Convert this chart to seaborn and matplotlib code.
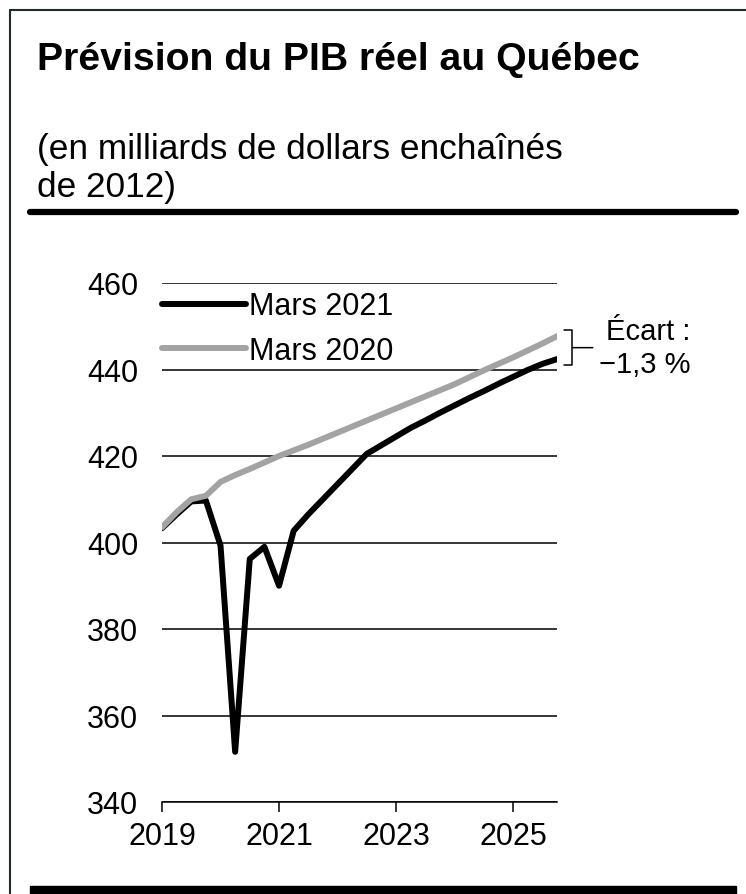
import pandas as pd
import matplotlib.pyplot as plt
import seaborn as sns
from matplotlib.lines import Line2D
from matplotlib.patches import Rectangle

# quarters 2019T1 .. 2025T4
quarters = pd.period_range("2019Q1", "2025Q4", freq="Q")

mars_2021 = [403.3, 406.5, 409.5, 409.7, 399.3, 351.6, 396.2, 399.0,
             390.0, 402.7, 406.5, 410.0, 413.5, 417.0, 420.5, 422.5,
             424.5, 426.5, 428.2, 430.0, 431.7, 433.4, 435.0, 436.7,
             438.3, 439.9, 441.3, 442.4]
mars_2020 = [403.5, 407.0, 410.0, 410.8, 414.0, 415.6, 417.0, 418.5,
             420.0, 421.3, 422.6, 424.0, 425.4, 426.8, 428.2, 429.6,
             431.0, 432.4, 433.8, 435.2, 436.6, 438.2, 439.8, 441.3,
             442.8, 444.4, 446.0, 447.7]

series_names = ["Mars 2021", "Mars 2020"]
y_ticks = [340, 360, 380, 400, 420, 440, 460]
x_ticks = [2019, 2021, 2023, 2025]

title = "Prévision du PIB réel au Québec"
subtitle_1 = "(en milliards de dollars enchaînés"
subtitle_2 = "de 2012)"
gap_label = "Écart :\n\u22121,3 %"

# long format for seaborn
x_year = [q.year + (q.quarter - 1) / 4 for q in quarters]
df = pd.concat([
    pd.DataFrame({"annee": x_year, "pib": mars_2021, "serie": series_names[0]}),
    pd.DataFrame({"annee": x_year, "pib": mars_2020, "serie": series_names[1]}),
])

sns.set_theme(style="white")
plt.rcParams["font.family"] = ["Liberation Sans", "DejaVu Sans"]

fig = plt.figure(figsize=(7.46, 8.95), dpi=100)
ax = fig.add_axes([162 / 746, 1 - 803 / 895, 395 / 746, 519 / 895])

lw = 4.3
sns.lineplot(
    data=df, x="annee", y="pib", hue="serie", hue_order=series_names,
    palette=["black", "#a3a3a3"], linewidth=lw, ax=ax,
    solid_capstyle="round",
)

ax.set_xlim(2019, 2025.75)
ax.set_ylim(340, 460)
ax.set_xticks(x_ticks)
ax.set_yticks(y_ticks)
ax.set_xlabel("")
ax.set_ylabel("")

# gridlines and axis
ax.yaxis.grid(True, color="black", linewidth=1.1)
ax.set_axisbelow(True)
for side in ["top", "right", "left"]:
    ax.spines[side].set_visible(False)
ax.spines["bottom"].set_color("black")
ax.spines["bottom"].set_linewidth(1.1)
ax.tick_params(axis="y", length=0, pad=17, labelsize=22, colors="black")
ax.tick_params(axis="x", length=7, width=1.1, pad=6.5, labelsize=22,
               colors="black", direction="out", bottom=True)

# legend
handles, labels = ax.get_legend_handles_labels()
for h in handles:
    h.set_linewidth(lw)
leg = ax.legend(handles, labels, loc="upper left", bbox_to_anchor=(0, 0.984),
                frameon=False, fontsize=22, handlelength=2.75,
                handletextpad=0.1, labelspacing=0.48, borderpad=0,
                borderaxespad=0)
for t in leg.get_texts():
    t.set_color("black")

# gap annotation with bracket
y_mid = (mars_2021[-1] + mars_2020[-1]) / 2
ax.annotate(
    gap_label, xy=(x_year[-1], y_mid), xycoords="data",
    xytext=(96, 0), textcoords="offset points",
    ha="right", va="center", multialignment="right", fontsize=21,
    color="black", annotation_clip=False,
    arrowprops=dict(arrowstyle="-[, widthB=0.6, lengthB=0.3",
                    color="black", linewidth=1.1, shrinkB=11),
)

# headings
fig.text(37 / 746, 1 - 60 / 895, title, fontsize=28.3, fontweight="bold",
         va="center", ha="left", color="black")
fig.text(37 / 746, 1 - 150 / 895, subtitle_1, fontsize=25.4, va="center",
         ha="left", color="black")
fig.text(37 / 746, 1 - 188 / 895, subtitle_2, fontsize=25.4, va="center",
         ha="left", color="black")

# frame decorations
fig.add_artist(Line2D([30 / 746, 736 / 746], [1 - 213 / 895, 1 - 213 / 895],
                      color="black", linewidth=4.5))
fig.add_artist(Rectangle((30 / 746, 0), 706 / 746, 8 / 895,
                         transform=fig.transFigure, color="black"))
fig.add_artist(Line2D([9.5 / 746, 9.5 / 746], [0, 1 - 11 / 895],
                      color="#202a2a", linewidth=1.5))
fig.add_artist(Line2D([9.5 / 746, 1], [1 - 11 / 895, 1 - 11 / 895],
                      color="#202a2a", linewidth=1.5))

fig.savefig("out.png", dpi=100, facecolor="white")
